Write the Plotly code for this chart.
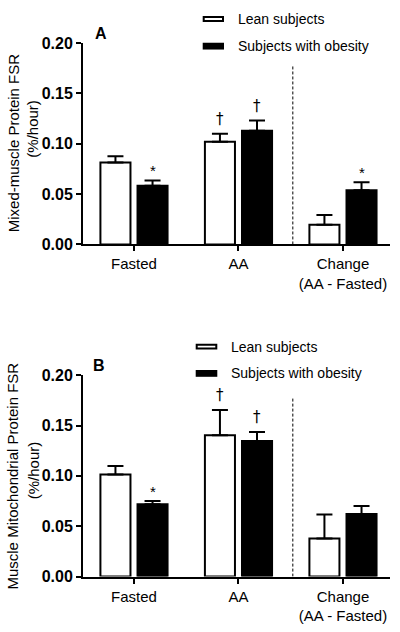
import plotly.graph_objects as go

# ---------------- data ----------------
categories = ["Fasted", "AA", "Change<br>(AA - Fasted)"]
series_names = ["Lean subjects", "Subjects with obesity"]

# Panel A: mixed-muscle protein FSR (%/hour)
a_lean = [0.0815, 0.102, 0.0196]
a_lean_err = [0.006, 0.008, 0.0097]
a_obese = [0.0583, 0.113, 0.0538]
a_obese_err = [0.0052, 0.010, 0.008]
a_lean_sig = ["", "†", ""]
a_obese_sig = ["*", "†", "*"]

# Panel B: muscle mitochondrial protein FSR (%/hour)
b_lean = [0.1014, 0.1404, 0.0377]
b_lean_err = [0.0084, 0.025, 0.024]
b_obese = [0.0718, 0.1346, 0.0621]
b_obese_err = [0.0032, 0.009, 0.008]
b_lean_sig = ["", "†", ""]
b_obese_sig = ["*", "†", ""]

y_ticks = [0.0, 0.05, 0.10, 0.15, 0.20]
y_ticktext = ["0.00", "0.05", "0.10", "0.15", "0.20"]

# ---------------- figure ----------------
W, H = 400, 632
FONT = "Liberation Sans, Arial, sans-serif"
SYMFONT = "DejaVu Sans, Liberation Sans, sans-serif"
xpos = list(range(len(categories)))
OFF = 0.1775

fig = go.Figure()

def add_panel(xa, ya, lean, lean_err, obese, obese_err):
    for vals, errs, fill in ((lean, lean_err, "white"), (obese, obese_err, "black")):
        fig.add_trace(go.Bar(
            x=xpos, y=vals, xaxis=xa, yaxis=ya, showlegend=False,
            marker=dict(color=fill, line=dict(color="black", width=2)),
            error_y=dict(type="data", array=errs, arrayminus=[0] * len(errs),
                         symmetric=False, thickness=2, width=8, color="black"),
            hoverinfo="skip",
        ))

add_panel("x", "y", a_lean, a_lean_err, a_obese, a_obese_err)
add_panel("x2", "y2", b_lean, b_lean_err, b_obese, b_obese_err)

def px_x(p):
    return p / W

def px_y(p):
    return 1 - p / H

xdom = [px_x(83), px_x(390)]
ydomA = [px_y(243), px_y(36)]
ydomB = [px_y(584.3), px_y(377.3)]

xaxis_common = dict(
    range=[-0.488, 2.45], tickmode="array", tickvals=xpos, ticktext=categories,
    ticks="outside", ticklen=5, tickwidth=2, tickcolor="black",
    showline=True, linewidth=2, linecolor="black", showgrid=False, zeroline=False,
    tickfont=dict(family=FONT, size=15, color="black"), fixedrange=True,
)
yaxis_common = dict(
    range=[0, 0.2], tickmode="array", tickvals=y_ticks, ticktext=y_ticktext,
    ticks="outside", ticklen=5, tickwidth=2, tickcolor="black",
    showline=True, linewidth=2, linecolor="black", showgrid=False, zeroline=False,
    tickfont=dict(family=FONT, size=16, color="black", weight="bold"), fixedrange=True,
)

fig.update_layout(
    width=W, height=H, autosize=False,
    margin=dict(l=0, r=0, t=0, b=0),
    paper_bgcolor="white", plot_bgcolor="white",
    barmode="group", bargap=0.29, bargroupgap=0.19,
    showlegend=False,
    xaxis=dict(domain=xdom, anchor="y", **xaxis_common),
    yaxis=dict(domain=ydomA, anchor="x", **yaxis_common),
    xaxis2=dict(domain=xdom, anchor="y2", **xaxis_common),
    yaxis2=dict(domain=ydomB, anchor="x2", **yaxis_common),
    font=dict(family=FONT, color="black"),
)

shapes = []
annotations = []

# dashed separators
for xr, yr in (("x", "y"), ("x2", "y2")):
    shapes.append(dict(type="line", xref=xr, yref=yr, x0=1.52, x1=1.52, y0=0, y1=0.178,
                       line=dict(color="black", width=1, dash="3px,2px")))

# significance marks
def add_sig(xr, yr, vals, errs, sigs, offset):
    for i, (v, e, s) in enumerate(zip(vals, errs, sigs)):
        if not s:
            continue
        dag = s == "†"
        annotations.append(dict(x=i + offset, y=v + e, xref=xr, yref=yr, text=s,
                                showarrow=False, yanchor="middle", yshift=15 if dag else 10,
                                font=dict(family=SYMFONT if dag else FONT, size=15,
                                          color="#000000")))

add_sig("x", "y", a_lean, a_lean_err, a_lean_sig, -OFF)
add_sig("x", "y", a_obese, a_obese_err, a_obese_sig, OFF)
add_sig("x2", "y2", b_lean, b_lean_err, b_lean_sig, -OFF)
add_sig("x2", "y2", b_obese, b_obese_err, b_obese_sig, OFF)

# legends (drawn manually)
def add_legend(box_x0, box_x1, y_white, y_black, text_x):
    shapes.append(dict(type="rect", xref="paper", yref="paper",
                       x0=px_x(box_x0 + 1), x1=px_x(box_x1 - 1),
                       y0=px_y(y_white - 2), y1=px_y(y_white + 2),
                       fillcolor="white", line=dict(color="black", width=2)))
    shapes.append(dict(type="rect", xref="paper", yref="paper",
                       x0=px_x(box_x0), x1=px_x(box_x1),
                       y0=px_y(y_black - 3.5), y1=px_y(y_black + 3.5),
                       fillcolor="black", line=dict(width=0)))
    for yy, name in ((y_white, series_names[0]), (y_black, series_names[1])):
        annotations.append(dict(x=px_x(text_x), y=px_y(yy), xref="paper", yref="paper",
                                text=name, showarrow=False, xanchor="left", yanchor="middle",
                                font=dict(family=FONT, size=14, color="black")))

add_legend(202.7, 224, 11.3, 39.2, 236)
add_legend(195.7, 217.3, 348, 375.5, 228.5)

# panel letters
for letter, xx, yy in (("A", 101, 26.5), ("B", 99, 367.5)):
    annotations.append(dict(x=px_x(xx), y=px_y(yy), xref="paper", yref="paper",
                            text=letter, showarrow=False, xanchor="center", yanchor="middle",
                            font=dict(family=FONT, size=16, color="black", weight="bold")))

# y-axis titles
for text, xx, yy in (("Mixed-muscle Protein FSR", 13, 139), ("(%/hour)", 33, 124),
                     ("Muscle Mitochondrial Protein FSR", 13, 481.5), ("(%/hour)", 33, 475)):
    annotations.append(dict(x=px_x(xx), y=px_y(yy), xref="paper", yref="paper",
                            text=text, showarrow=False, textangle=-90,
                            xanchor="center", yanchor="middle",
                            font=dict(family=FONT, size=15, color="black")))

fig.update_layout(shapes=shapes, annotations=annotations)
fig.write_html("out.html", config={"displayModeBar": False, "staticPlot": True},
               post_script="document.body.style.margin='0';")
